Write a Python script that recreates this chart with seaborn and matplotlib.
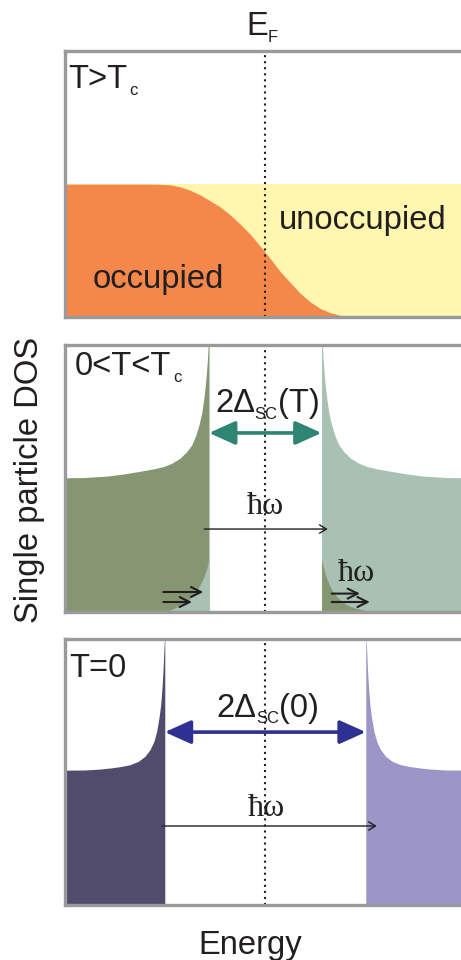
import numpy as np
import pandas as pd
import matplotlib
matplotlib.use("Agg")
import matplotlib.pyplot as plt
from matplotlib.transforms import IdentityTransform
import seaborn as sns

# ---------------- data ----------------
# energies in units of the T=0 gap, E_F = 0; DOS normalised to the normal-state value
normal_dos = 1.0
fermi_E = [-2.0, -1.147, -1.047, -0.948, -0.848, -0.749, -0.649, -0.550, -0.451, -0.351,
           -0.251, -0.152, -0.003, 0.146, 0.245, 0.345, 0.445, 0.544, 0.644, 0.743,
           0.843, 0.942, 2.1]
fermi_occ = [1.0, 1.0, 0.999, 0.995, 0.98, 0.955, 0.92, 0.875, 0.83, 0.77,
             0.70, 0.625, 0.49, 0.345, 0.262, 0.18, 0.115, 0.065, 0.033, 0.013,
             0.004, 0.0, 0.0]

gap_T = 0.56      # Delta_SC(T) for 0<T<Tc
gap_0 = 1.0       # Delta_SC(0)

# coherence-peak profile: distance above the gap edge -> DOS
peakT_d = [0.0, 0.010, 0.017, 0.030, 0.047, 0.070, 0.100, 0.130, 0.172, 0.222,
           0.289, 0.371, 0.455, 0.554, 0.687, 0.85, 1.0, 1.25, 1.7]
peakT_dos = [2.1, 1.976, 1.876, 1.751, 1.626, 1.501, 1.402, 1.327, 1.252, 1.202,
             1.153, 1.115, 1.090, 1.073, 1.055, 1.035, 1.02, 1.008, 1.005]
peak0_d = [0.0, 0.005, 0.011, 0.018, 0.028, 0.041, 0.058, 0.081, 0.108, 0.147,
           0.197, 0.264, 0.346, 0.446, 0.545, 0.645, 0.8, 1.3]
peak0_dos = [2.1, 1.983, 1.882, 1.757, 1.632, 1.506, 1.406, 1.306, 1.231, 1.168,
             1.118, 1.080, 1.055, 1.040, 1.030, 1.022, 1.015, 1.012]

# thermally smeared tails for 0<T<Tc
tailL_E = [-1.0, -0.948, -0.880, -0.815, -0.760, -0.716, -0.680, -0.649, -0.620, -0.599, -0.580, -0.567, -0.56]
tailL_h = [0.0, 0.017, 0.040, 0.068, 0.097, 0.13, 0.165, 0.205, 0.250, 0.292, 0.335, 0.379, 0.379]
tailR_E = [0.56, 0.562, 0.578, 0.595, 0.618, 0.645, 0.676, 0.712, 0.760, 0.811, 0.890, 0.977, 1.06]
tailR_h = [0.392, 0.392, 0.340, 0.292, 0.240, 0.192, 0.150, 0.117, 0.083, 0.055, 0.032, 0.017, 0.0]

# ---------------- style ----------------
sns.set_theme(style="white")
plt.rcParams["font.family"] = ["Liberation Sans", "DejaVu Sans"]
TXT = "#231f20"
SERIF = ["Liberation Serif", "DejaVu Serif"]
FRAME = "#9a9a9a"
ORANGE, YELLOW = "#f4874a", "#fff6b0"
G_DARK, G_LIGHT, TEAL = "#879672", "#a8c1b3", "#2f8573"
P_DARK, P_LIGHT, BLUE = "#514c6b", "#9b95c8", "#2e3192"

W, H = 461, 960
fig = plt.figure(figsize=(W / 100, H / 100), dpi=100)

XL, XR = -1.993, 2.037
LEFT_PX, RIGHT_PX = 65, 470


def make_ax(top_px, bot_px):
    ax = fig.add_axes([LEFT_PX / W, 1 - bot_px / H, (RIGHT_PX - LEFT_PX) / W,
                       (bot_px - top_px) / H])
    ax.set_xlim(XL, XR)
    ax.set_ylim(0, 2)
    ax.set_xticks([])
    ax.set_yticks([])
    sns.despine(ax=ax, top=False, right=True, left=False, bottom=False)
    for s in ("top", "bottom", "left"):
        ax.spines[s].set_color(FRAME)
        ax.spines[s].set_linewidth(2.4)
        ax.spines[s].set_zorder(10)
    ax.axvline(0, color=TXT, lw=1.5, ls=(0, (1, 1.9)), zorder=6)
    return ax


def band(gap, d, dos, side):
    d = np.asarray(d)
    dos = np.asarray(dos)
    if side < 0:
        return -(gap + d)[::-1], dos[::-1]
    return gap + d, dos


def ptext(x, y, s, size=23.6, family=None, **kw):
    kw.setdefault("va", "baseline")
    kw.setdefault("ha", "left")
    return fig.text(x, H - y, s, fontsize=size, color=TXT,
                    family=family if family else ["Liberation Sans", "DejaVu Sans"],
                    transform=IdentityTransform(), **kw)


def darrow(ax, x0, x1, y, color, lw=2.6, hl=1.6, hw=0.72, style="<|-|>"):
    ax.annotate("", xy=(x1, y), xytext=(x0, y),
                arrowprops=dict(arrowstyle=f"{style},head_length={hl},head_width={hw}",
                                color=color, lw=lw, shrinkA=0, shrinkB=0,
                                mutation_scale=10), zorder=8)


# ---------------- panel 1: T > Tc ----------------
ax1 = make_ax(51.3, 317)
ax1.fill_between([XL, XR], 0, normal_dos, color=YELLOW, lw=0, zorder=1)
ax1.fill_between(fermi_E, 0, np.asarray(fermi_occ) * normal_dos, color=ORANGE, lw=0, zorder=2)

# ---------------- panel 2: 0 < T < Tc ----------------
ax2 = make_ax(345, 612.3)
xl, yl = band(gap_T, peakT_d, peakT_dos, -1)
xr, yr = band(gap_T, peakT_d, peakT_dos, +1)
ax2.fill_between(xl, 0, yl, color=G_DARK, lw=0, zorder=1)
ax2.fill_between(xr, 0, yr, color=G_LIGHT, lw=0, zorder=1)
ax2.fill_between(tailL_E, 0, tailL_h, color=G_LIGHT, lw=0, zorder=2)
ax2.fill_between(tailR_E, 0, tailR_h, color=G_DARK, lw=0, zorder=2)
darrow(ax2, -gap_T, gap_T, 1.342, TEAL)
darrow(ax2, -gap_T - 0.047, gap_T + 0.062, 0.623, TXT, lw=1.0, hl=0.5, hw=0.3, style="->")
darrow(ax2, -1.015, -0.617, 0.152, TXT, lw=1.5, hl=0.72, hw=0.36, style="->")
darrow(ax2, -1.015, -0.730, 0.077, TXT, lw=1.5, hl=0.72, hw=0.36, style="->")
darrow(ax2, 0.660, 0.942, 0.140, TXT, lw=1.5, hl=0.72, hw=0.36, style="->")
darrow(ax2, 0.660, 1.040, 0.077, TXT, lw=1.5, hl=0.72, hw=0.36, style="->")

# ---------------- panel 3: T = 0 ----------------
ax3 = make_ax(639, 905)
xl, yl = band(gap_0, peak0_d, peak0_dos, -1)
xr, yr = band(gap_0, peak0_d, peak0_dos, +1)
ax3.fill_between(xl, 0, yl, color=P_DARK, lw=0, zorder=1)
ax3.fill_between(xr, 0, yr, color=P_LIGHT, lw=0, zorder=1)
darrow(ax3, -gap_0, gap_0, 1.30, BLUE)
darrow(ax3, -gap_0 - 0.027, gap_0 + 0.11, 0.594, TXT, lw=1.0, hl=0.5, hw=0.3, style="->")

# ---------------- texts ----------------
ptext(246, 35, "E")
ptext(268, 41.7, "F", size=12)
ptext(68.5, 88.3, "T>T")
ptext(129.5, 95, "c", size=12)
ptext(279, 229.3, "unoccupied")
ptext(93, 288.3, "occupied")

ptext(74.5, 375, "0<T<T")
ptext(173.5, 381.7, "c", size=12)
ptext(215.5, 411.7, "2Δ")
ptext(254.5, 419.3, "SC", size=12)
ptext(277.7, 411.7, "(T)")
ptext(265.7, 514.3, "ħω", size=23, family=SERIF, ha="center")
ptext(356, 580.7, "ħω", size=23, family=SERIF, ha="center")

ptext(69.5, 676.7, "T=0")
ptext(216, 717.0, "2Δ")
ptext(256, 723.3, "SC", size=12)
ptext(278.7, 717.0, "(0)")
ptext(265.8, 816, "ħω", size=23, family=SERIF, ha="center")

ptext(250, 954, "Energy", ha="center")
ptext(30, 480, "Single particle DOS", rotation=90, ha="center", va="center")

fig.savefig("out.png", dpi=100)
